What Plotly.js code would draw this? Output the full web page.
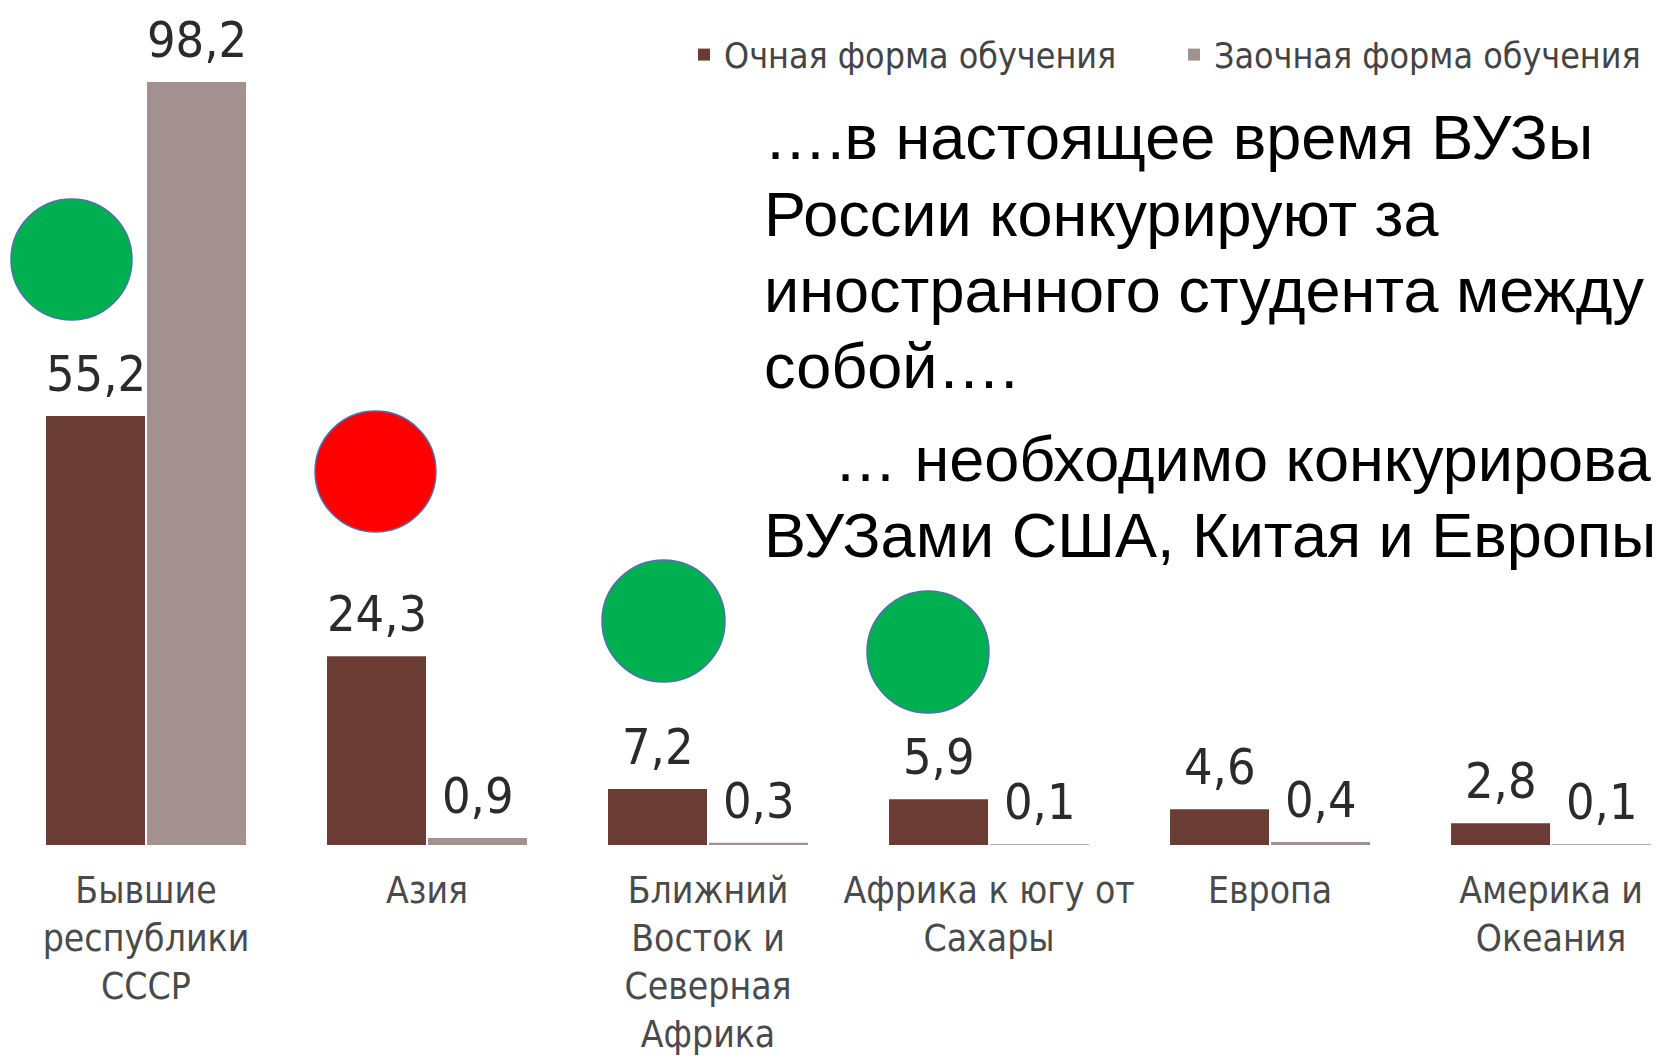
<!DOCTYPE html>
<html>
<head>
<meta charset="utf-8">
<script src="https://cdn.plot.ly/plotly-3.0.1.min.js"></script>
<style>
  html, body { margin: 0; padding: 0; background: #ffffff; overflow: hidden; }
  #chart { width: 1657px; height: 1062px; }
</style>
</head>
<body>
<div id="chart"></div>
<script>
// ---- data ----
const categories = [
  'Бывшие<br>республики<br>СССР',
  'Азия',
  'Ближний<br>Восток и<br>Северная<br>Африка',
  'Африка к югу от<br>Сахары',
  'Европа',
  'Америка и<br>Океания'
];
const fullTime = [55.2, 24.3, 7.2, 5.9, 4.6, 2.8];   // Очная форма обучения
const partTime = [98.2, 0.9, 0.3, 0.1, 0.4, 0.1];    // Заочная форма обучения
const seriesNames = ['Очная форма обучения', 'Заочная форма обучения'];
const noteLines = [
  '….в настоящее время ВУЗы',
  'России конкурируют за',
  'иностранного студента между',
  'собой….',
  '… необходимо конкурирова',
  'ВУЗами США, Китая и Европы'
];

// ---- style / placement ----
const W = 1657, H = 1062;
const M = {l: 0, r: 0, t: 0, b: 217};
const plotH = H - M.t - M.b;
const narrow = '"DejaVu Sans Condensed", "Liberation Sans Narrow", sans-serif';
const plainSans = '"Liberation Sans", Arial, sans-serif';
const darkColor = '#6b3c33';
const lightColor = '#a39190';
const fmt = v => v.toFixed(1).replace('.', ',');

const traces = [
  {type: 'bar', name: seriesNames[0], x: categories, y: fullTime,
   marker: {color: darkColor, line: {width: 0}}, hoverinfo: 'skip'},
  {type: 'bar', name: seriesNames[1], x: categories, y: partTime,
   marker: {color: lightColor, line: {width: 0}}, hoverinfo: 'skip'}
];

const annotations = [];
const slotShift = 50.5;
const valueFont = {family: narrow, size: 50, color: '#2b2b2b'};
categories.forEach((c, i) => {
  annotations.push({x: c, y: fullTime[i], xref: 'x', yref: 'y', xshift: -slotShift, yshift: 11,
    yanchor: 'bottom', xanchor: 'center', showarrow: false, text: fmt(fullTime[i]), font: valueFont});
  annotations.push({x: c, y: partTime[i], xref: 'x', yref: 'y', xshift: slotShift, yshift: 11,
    yanchor: 'bottom', xanchor: 'center', showarrow: false, text: fmt(partTime[i]), font: valueFont});
});

const px2x = px => px / W;
const py2y = py => (plotH - py) / plotH;

// note text: one annotation per line (pixel line centres)
const noteX = [762, 762, 762, 762, 832, 762];
const noteY = [137, 213.5, 289.5, 366, 459, 535];
noteLines.forEach((t, i) => {
  annotations.push({xref: 'paper', yref: 'paper', x: px2x(noteX[i]), y: py2y(noteY[i]),
    xanchor: 'left', yanchor: 'middle', align: 'left', showarrow: false, text: t,
    font: {family: plainSans, size: 63, color: '#000000'}});
});

// decorative circles (pixel boxes -> paper)
const circleBoxes = [
  {x0: 11, x1: 132, y0: 199, y1: 320, color: '#00b050'},
  {x0: 315, x1: 436, y0: 411, y1: 532, color: '#ff0000'},
  {x0: 602, x1: 725, y0: 560, y1: 682, color: '#00b050'},
  {x0: 867, x1: 989, y0: 591, y1: 713, color: '#00b050'}
];
const shapes = circleBoxes.map(b => ({
  type: 'circle', xref: 'paper', yref: 'paper',
  x0: px2x(b.x0), x1: px2x(b.x1), y0: py2y(b.y1), y1: py2y(b.y0),
  fillcolor: b.color, line: {color: '#4a72b0', width: 1.5}, layer: 'above'
}));

const layout = {
  width: W, height: H,
  margin: {l: M.l, r: M.r, t: M.t, b: M.b, pad: 0, autoexpand: false},
  paper_bgcolor: '#ffffff', plot_bgcolor: '#ffffff',
  barmode: 'group', bargap: 0.281, bargroupgap: 0.02,
  xaxis: {type: 'category', range: [-0.5196, 5.377], showgrid: false, zeroline: false, showline: false,
    ticks: '', tickangle: 0, tickfont: {family: narrow, size: 37, color: '#4a4a4a'},
    ticklabelstandoff: 20, automargin: false, fixedrange: true},
  yaxis: {range: [0, 108.75], visible: false, showgrid: false, zeroline: false, fixedrange: true},
  showlegend: true,
  legend: {orientation: 'h', xref: 'container', yref: 'container', x: 684 / W, y: 1 - 55 / H,
    xanchor: 'left', yanchor: 'middle', entrywidth: 445, entrywidthmode: 'pixels',
    font: {family: narrow, size: 35.5, color: '#444444'}, bgcolor: 'rgba(0,0,0,0)', traceorder: 'normal'},
  annotations: annotations,
  shapes: shapes
};

Plotly.newPlot('chart', traces, layout, {displayModeBar: false, staticPlot: true});
</script>
</body>
</html>
